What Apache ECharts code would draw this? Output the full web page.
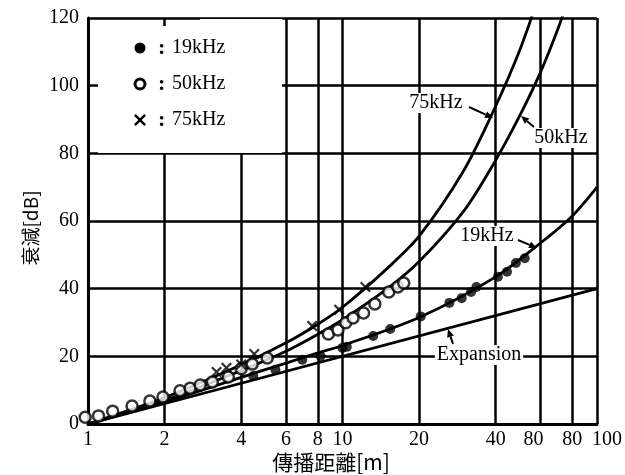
<!DOCTYPE html>
<html><head><meta charset="utf-8">
<script src="https://cdn.jsdelivr.net/npm/echarts@6/dist/echarts.min.js"></script>
<style>html,body{margin:0;padding:0;background:#fff}#c{width:625px;height:475px}</style>
</head><body><div id="c"></div>
<script>
// ---- tick labels ----
const xTickValues = [1, 2, 4, 6, 8, 10, 20, 40, 60, 80, 100];
const xTickLabels = ['1', '2', '4', '6', '8', '10', '20', '40', '80', '80', '100'];
const yTickMin = 0, yTickMax = 120, yTickStep = 20;

// ---- curves ----
const expansionX = [1, 100];
const expansionY = [0, 40];
const curve19X = [1, 2, 4, 6, 8, 10, 20, 40, 60, 80, 100];
const curve19Y = [0, 6.5, 13.8, 18, 21, 23.2, 31.5, 43.5, 53.5, 61.5, 70];
const curve50X = [1, 2, 4, 6, 8, 10, 15, 20, 30, 40, 50, 60, 70, 80];
const curve50Y = [0, 7, 15.8, 21.5, 26.5, 30.8, 40, 48, 63, 78, 91.5, 104, 116.5, 129];
const curve75X = [1, 2, 4, 6, 8, 10, 15, 20, 30, 40, 50, 60];
const curve75Y = [0, 7.8, 17.5, 24, 29.5, 34.5, 46, 55.5, 75, 94, 111, 128];

// ---- measured points ----
const pts19X = [4.46, 5.45, 6.95, 8.2, 10, 10.4, 13.2, 15.4, 20.3, 26.3, 29.4, 32, 33.6, 40.8, 44.3, 48, 52];
const pts19Y = [14.2, 16, 19, 20.1, 22.5, 22.8, 26, 28.1, 31.8, 35.8, 37.2, 39, 40.5, 43.5, 45, 47.6, 49];
const pts50X = [0.975, 1.1, 1.25, 1.49, 1.75, 1.97, 2.3, 2.52, 2.76, 3.08, 3.56, 4.0, 4.42, 5.06, 8.8, 9.6, 10.3, 11.0, 12.1, 13.4, 15.2, 16.5, 17.4];
const pts50Y = [2, 2.4, 3.8, 5.3, 6.8, 8, 9.8, 10.6, 11.5, 12.4, 13.9, 16.3, 17.7, 19.5, 26.6, 27.8, 29.9, 31.3, 32.8, 35.5, 39, 40.5, 41.7];
const pts75X = [3.2, 3.5, 4.0, 4.5, 7.6, 9.7, 12.3];
const pts75Y = [15.4, 16.6, 17.6, 20.7, 29, 33.8, 40.5];

const zip = (a, b) => a.map((v, i) => [v, b[i]]);
const SERIF = '"Liberation Serif","DejaVu Serif",serif';
const CJK = '"Noto Sans CJK TC","Noto Sans CJK SC",sans-serif';
const CROSS = 'path://M0,1.4L1.4,0L5,3.6L8.6,0L10,1.4L6.4,5L10,8.6L8.6,10L5,6.4L1.4,10L0,8.6L3.6,5Z';

function xLabel(v) {
  let best = 0, d = Infinity;
  xTickValues.forEach((t, i) => { const dd = Math.abs(Math.log(t) - Math.log(v)); if (dd < d) { d = dd; best = i; } });
  const s = xTickLabels[best];
  if (best === 8) return '{l|' + s + '}';
  if (best === xTickValues.length - 1) return '{r|' + s + '}';
  return s;
}

function arrow(x1, y1, x2, y2) {
  const a = Math.atan2(y2 - y1, x2 - x1), L = 8, W = 3.5;
  const bx = x2 - L * Math.cos(a), by = y2 - L * Math.sin(a);
  const px = -Math.sin(a) * W, py = Math.cos(a) * W;
  return [
    { type: 'line', z: 60, shape: { x1, y1, x2: bx, y2: by }, style: { stroke: '#000', lineWidth: 2 } },
    { type: 'polygon', z: 60, shape: { points: [[x2, y2], [bx + px, by + py], [bx - px, by - py]] }, style: { fill: '#000' } }
  ];
}
function label(text, x, y) {
  return { type: 'text', z: 61, x, y, style: { text, font: '20px ' + SERIF, fill: '#000', align: 'center', verticalAlign: 'middle', backgroundColor: '#fff', padding: [0, 2] } };
}
function crossShape(cx, cy, s) {
  const p = [[0,1.4],[1.4,0],[5,3.6],[8.6,0],[10,1.4],[6.4,5],[10,8.6],[8.6,10],[5,6.4],[1.4,10],[0,8.6],[3.6,5]];
  return { type: 'polygon', z: 51, shape: { points: p.map(q => [cx + (q[0] - 5) * s / 10, cy + (q[1] - 5) * s / 10]) }, style: { fill: '#000' } };
}

const lineStyle = { color: '#000', width: 2.8 };
const chart = echarts.init(document.getElementById('c'));
chart.setOption({
  animation: false,
  backgroundColor: '#fff',
  grid: { left: 88, right: 28, top: 18, bottom: 51 },
  xAxis: {
    type: 'log', logBase: 10, min: 1, max: 100,
    axisLine: { lineStyle: { color: '#000', width: 3 } },
    axisTick: { show: false, customValues: xTickValues },
    axisLabel: {
      customValues: xTickValues, formatter: xLabel, showMinLabel: true, showMaxLabel: true, hideOverlap: false,
      color: '#000', fontFamily: SERIF, fontSize: 20, margin: 6,
      rich: {
        l: { fontFamily: SERIF, fontSize: 20, color: '#000', padding: [0, 14, 0, 0] },
        r: { fontFamily: SERIF, fontSize: 20, color: '#000', padding: [0, 0, 0, 20] }
      }
    },
    splitLine: { show: true, lineStyle: { color: '#000', width: 2.5 } }
  },
  yAxis: {
    type: 'value', min: yTickMin, max: yTickMax, interval: yTickStep,
    axisLine: { show: true, lineStyle: { color: '#000', width: 3 } },
    axisTick: { show: false },
    axisLabel: { color: '#000', fontFamily: SERIF, fontSize: 20, margin: 9 },
    splitLine: { show: true, lineStyle: { color: '#000', width: 2.5 } }
  },
  series: [
    { type: 'line', data: zip(expansionX, expansionY), symbol: 'none', lineStyle },
    { type: 'line', data: zip(curve19X, curve19Y), symbol: 'none', smooth: 0.3, lineStyle },
    { type: 'line', data: zip(curve50X, curve50Y), symbol: 'none', smooth: 0.3, lineStyle },
    { type: 'line', data: zip(curve75X, curve75Y), symbol: 'none', smooth: 0.3, lineStyle },
    { type: 'scatter', data: zip(pts19X, pts19Y), symbol: 'circle', symbolSize: 10, itemStyle: { color: '#000' }, z: 5 },
    { type: 'scatter', data: zip(pts50X, pts50Y), symbol: 'circle', symbolSize: 11, clip: false, itemStyle: { color: '#fff', borderColor: '#000', borderWidth: 2.5 }, z: 5 },
    { type: 'scatter', data: zip(pts75X, pts75Y), symbol: CROSS, symbolSize: 11, itemStyle: { color: '#000' }, z: 5 }
  ],
  graphic: [
    // legend box covering grid lines
    { type: 'rect', z: 50, shape: { x: 98, y: 26, width: 184, height: 127 }, style: { fill: '#fff' } },
    { type: 'rect', z: 50, shape: { x: 200, y: 19, width: 82, height: 10 }, style: { fill: '#fff' } },
    { type: 'circle', z: 51, shape: { cx: 140, cy: 48, r: 5.5 }, style: { fill: '#000' } },
    { type: 'circle', z: 51, shape: { cx: 140, cy: 84, r: 5 }, style: { fill: '#fff', stroke: '#000', lineWidth: 3 } },
    crossShape(140, 120, 12),
    { type: 'text', z: 51, x: 158, y: 48, style: { text: ':', font: 'bold 22px ' + SERIF, fill: '#000', verticalAlign: 'middle' } },
    { type: 'text', z: 51, x: 158, y: 84, style: { text: ':', font: 'bold 22px ' + SERIF, fill: '#000', verticalAlign: 'middle' } },
    { type: 'text', z: 51, x: 158, y: 120, style: { text: ':', font: 'bold 22px ' + SERIF, fill: '#000', verticalAlign: 'middle' } },
    { type: 'text', z: 51, x: 172, y: 48, style: { text: '19kHz', font: '20px ' + SERIF, fill: '#000', verticalAlign: 'middle' } },
    { type: 'text', z: 51, x: 172, y: 84, style: { text: '50kHz', font: '20px ' + SERIF, fill: '#000', verticalAlign: 'middle' } },
    { type: 'text', z: 51, x: 172, y: 120, style: { text: '75kHz', font: '20px ' + SERIF, fill: '#000', verticalAlign: 'middle' } },
    // annotations
    label('75kHz', 436, 103), ...arrow(469, 107, 493, 118),
    label('50kHz', 561, 138), ...arrow(534, 127, 521, 116),
    label('19kHz', 487, 236), ...arrow(518, 240, 537, 248),
    label('Expansion', 479, 355), ...arrow(453, 344, 448, 329),
    // axis names
    { type: 'text', z: 51, x: 331, y: 462, style: { text: '傳播距離[m]', font: '21px ' + CJK, fill: '#000', align: 'center', verticalAlign: 'middle' } },
    { type: 'text', z: 51, x: 31, y: 228, rotation: Math.PI / 2, style: { text: '衰減[dB]', font: '19px ' + CJK, fill: '#000', align: 'center', verticalAlign: 'middle' } }
  ]
});
</script>
</body></html>
